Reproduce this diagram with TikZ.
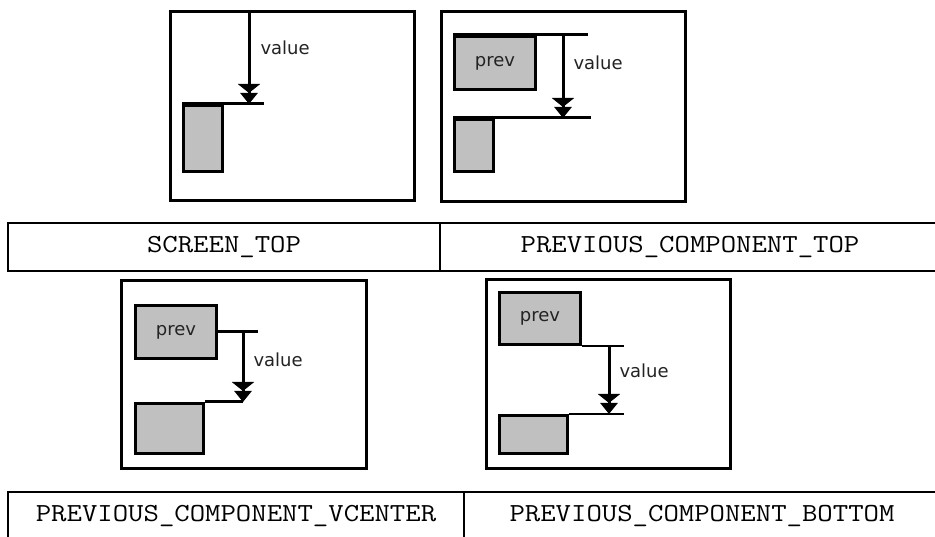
\documentclass[tikz,border=0pt]{standalone}
\usepackage{fontspec}
\usetikzlibrary{arrows.meta, positioning}
\newfontfamily\codefont[FakeStretch=1.15]{Latin Modern Mono}
\newfontfamily\labelfont{DejaVu Sans}
\definecolor{compgray}{RGB}{192,192,192}
\definecolor{labelgray}{RGB}{35,35,35}

\begin{document}
\begin{tikzpicture}[x=1pt, y=-1pt,
        frame/.style={draw, line width=3pt, inner sep=0pt},
        comp/.style={draw, line width=3pt, fill=compgray, inner sep=0pt,
            font=\labelfont\fontsize{18}{18}\selectfont, text=labelgray},
        edge/.style={line width=3pt},
        thinedge/.style={line width=2pt},
        valarrow/.style={line width=3pt,
            -{Triangle[width=22pt,length=9pt,sep=0pt]Triangle[width=17pt,length=11pt]}},
        vallabel/.style={font=\labelfont\fontsize{18}{18}\selectfont, text=labelgray, inner sep=1pt},
        cell/.style={draw, line width=2pt, minimum height=48pt, inner sep=0pt,
            font=\codefont\fontsize{26}{26}\selectfont}]
        \useasboundingbox (0,0) rectangle (935,537);

        % SCREEN_TOP
        \node[frame, minimum width=244pt, minimum height=189pt] (f1) at (292.5,106) {};
        \node[comp, minimum width=39pt, minimum height=66pt] (s1) at (203,138.5) {};
        \coordinate[right=40pt of s1.north east] (l1);
        \coordinate (x1) at (249,0);
        \draw[edge] (s1.north west) -- (l1);
        \draw[valarrow] (f1.north -| x1) -- (s1.north -| x1) node[vallabel, pos=0.4, right=9pt] {value};

        % PREVIOUS_COMPONENT_TOP
        \node[frame, minimum width=244pt, minimum height=190pt] (f2) at (563.5,106.5) {};
        \node[comp, minimum width=81pt, minimum height=53pt] (p2) at (495,63) {prev};
        \node[comp, minimum width=39pt, minimum height=52pt] (s2) at (474,145.5) {};
        \coordinate[right=51pt of p2.north east] (l2a);
        \coordinate[right=96pt of s2.north east] (l2b);
        \coordinate (x2) at (563,0);
        \draw[edge] (p2.north west) -- (l2a);
        \draw[edge] (s2.north west) -- (l2b);
        \draw[valarrow] (p2.north -| x2) -- (s2.north -| x2) node[vallabel, pos=0.33, right=8pt] {value};

        % PREVIOUS_COMPONENT_VCENTER
        \node[frame, minimum width=245pt, minimum height=188pt] (f3) at (244,374.5) {};
        \node[comp, minimum width=81pt, minimum height=53pt] (p3) at (176,332) {prev};
        \node[comp, minimum width=68pt, minimum height=50pt] (s3) at (169.5,428.5) {};
        \coordinate[right=40pt of p3.east] (l3);
        \coordinate (x3) at (243,0);
        \draw[edge] (p3.east) -- (l3);
        \draw[edge] (s3.north east) -- (s3.north -| x3);
        \draw[valarrow] (p3.east -| x3) -- (s3.north -| x3) node[vallabel, pos=0.39, right=8pt] {value};

        % PREVIOUS_COMPONENT_BOTTOM
        \node[frame, minimum width=244pt, minimum height=189pt] (f4) at (608.5,374) {};
        \node[comp, minimum width=81pt, minimum height=52pt] (p4) at (540,318.5) {prev};
        \node[comp, minimum width=68pt, minimum height=38pt] (s4) at (533.5,434.5) {};
        \coordinate[right=42pt of p4.south east] (l4a);
        \coordinate[right=55pt of s4.north east] (l4b);
        \coordinate (x4) at (609,0);
        \draw[thinedge] (p4.south east) -- (l4a);
        \draw[thinedge] (s4.north east) -- (l4b);
        \draw[valarrow] (p4.south -| x4) -- (s4.north -| x4) node[vallabel, pos=0.37, right=8pt] {value};

        % Tabelle
        \node[cell, minimum width=432pt] (c1) at (224,247) {SCREEN\_TOP};
        \node[cell, minimum width=500pt] (c2) at (690,247) {PREVIOUS\_COMPONENT\_TOP};
        \node[cell, minimum width=456pt] (c3) at (236,516) {PREVIOUS\_COMPONENT\_VCENTER};
        \node[cell, minimum width=476pt] (c4) at (702,516) {PREVIOUS\_COMPONENT\_BOTTOM};

    \end{tikzpicture}
\end{document}
